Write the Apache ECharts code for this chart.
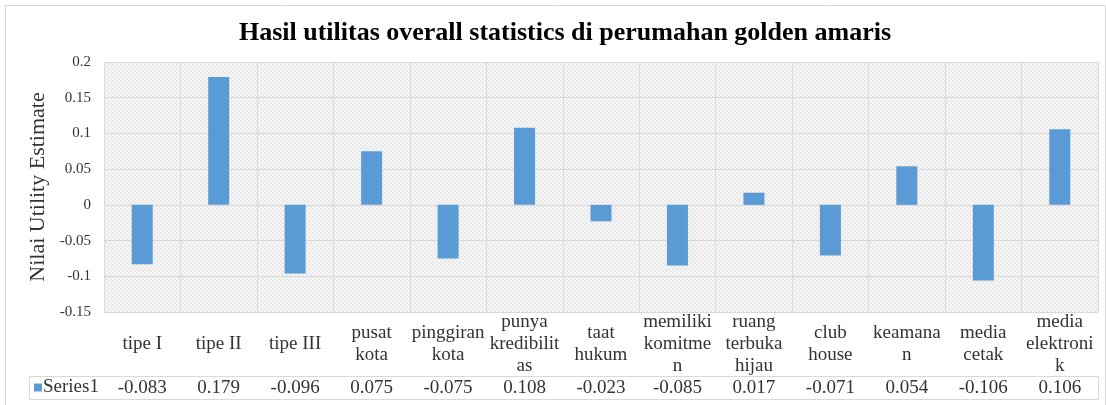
<!DOCTYPE html>
<html>
<head>
<meta charset="utf-8">
<title>Hasil utilitas overall statistics di perumahan golden amaris</title>
<script src="https://cdn.jsdelivr.net/npm/echarts@6/dist/echarts.min.js"></script>
<style>
  html, body { margin: 0; padding: 0; background: #ffffff; }
  #chart { width: 1106px; height: 405px; }
</style>
</head>
<body>
<div id="chart"></div>
<script>
// Attribute levels (category labels, wrapped the way the data table shows them)
const categories = [
  'tipe I', 'tipe II', 'tipe III', 'pusat\nkota', 'pinggiran\nkota',
  'punya\nkredibilit\nas', 'taat\nhukum', 'memiliki\nkomitme\nn',
  'ruang\nterbuka\nhijau', 'club\nhouse', 'keamana\nn', 'media\ncetak',
  'media\nelektroni\nk'
];
// Utility estimates per level
const utilityValues = [
  -0.083, 0.179, -0.096, 0.075, -0.075, 0.108, -0.023,
  -0.085, 0.017, -0.071, 0.054, -0.106, 0.106
];
// Value axis ticks
const yMin = -0.15;
const yMax = 0.2;
const yStep = 0.05;

const seriesName = 'Series1';

// Layout of the plot and the data table underneath it
const W = 1106, H = 405;
const GRID_LEFT = 104, GRID_RIGHT = 8, GRID_TOP = 62, GRID_BOTTOM = 93;
const CAT_ROW_H = 64, VAL_ROW_H = 23, LEGEND_CELL_LEFT = 29;
const plotBottom = H - GRID_BOTTOM;
const plotRight = W - GRID_RIGHT;
const lineColor = '#d9d9d9';
const textColor = '#333333';
const serif = '"Liberation Serif", "Times New Roman", serif';

// Fine diagonal hatch used as the plot background
function makeHatch() {
  const c = document.createElement('canvas');
  c.width = 4; c.height = 4;
  const g = c.getContext('2d');
  g.fillStyle = '#f5f5f5';
  g.fillRect(0, 0, 4, 4);
  g.fillStyle = '#dedede';
  for (let i = 0; i < 4; i++) g.fillRect(i, i, 1, 1);
  return c;
}

const chart = echarts.init(document.getElementById('chart'), null, { renderer: 'canvas' });

chart.setOption({
  animation: false,
  backgroundColor: '#ffffff',
  title: {
    text: 'Hasil utilitas overall statistics di perumahan golden amaris',
    left: 560,
    textAlign: 'center',
    top: 15,
    textStyle: { fontFamily: serif, fontWeight: 'bold', fontSize: 26, color: '#000000' }
  },
  legend: {
    data: [seriesName],
    left: LEGEND_CELL_LEFT + 5,
    top: plotBottom + CAT_ROW_H + 2,
    icon: 'rect',
    itemWidth: 8,
    itemHeight: 8,
    itemGap: 0,
    padding: 0,
    textStyle: { fontFamily: serif, fontSize: 19, lineHeight: 19, color: textColor, padding: [0, 0, 0, -4] }
  },
  grid: {
    left: GRID_LEFT, right: GRID_RIGHT, top: GRID_TOP, bottom: GRID_BOTTOM,
    show: true,
    borderWidth: 0,
    backgroundColor: { image: makeHatch(), repeat: 'repeat' }
  },
  xAxis: [
    {
      type: 'category',
      data: categories,
      position: 'bottom',
      axisLine: { show: false },
      axisTick: { show: true, length: CAT_ROW_H + VAL_ROW_H, lineStyle: { color: lineColor } },
      splitLine: { show: true, lineStyle: { color: lineColor, width: 1 } },
      axisLabel: {
        interval: 0,
        margin: CAT_ROW_H / 2,
        verticalAlign: 'middle',
        align: 'center',
        fontFamily: serif,
        fontSize: 19,
        lineHeight: 22,
        color: textColor
      }
    },
    {
      type: 'category',
      data: categories,
      position: 'bottom',
      offset: CAT_ROW_H,
      axisLine: { show: false },
      axisTick: { show: false },
      splitLine: { show: false },
      axisLabel: {
        interval: 0,
        margin: VAL_ROW_H / 2 + 1,
        verticalAlign: 'middle',
        fontFamily: serif,
        fontSize: 19,
        color: textColor,
        formatter: (v, i) => utilityValues[i].toFixed(3)
      }
    }
  ],
  yAxis: {
    type: 'value',
    min: yMin,
    max: yMax,
    interval: yStep,
    name: 'Nilai Utility Estimate',
    nameLocation: 'middle',
    nameGap: 52,
    nameTextStyle: { fontFamily: serif, fontSize: 22, color: textColor },
    axisLine: { show: false },
    axisTick: { show: false },
    splitLine: { show: true, lineStyle: { color: lineColor, width: 1 } },
    axisLabel: { fontFamily: serif, fontSize: 15, color: textColor, margin: 13 }
  },
  series: [
    {
      name: seriesName,
      type: 'bar',
      xAxisIndex: 0,
      data: utilityValues,
      barWidth: 21,
      itemStyle: { color: '#5b9bd5' }
    }
  ],
  graphic: [
    {
      // outer chart frame
      type: 'rect',
      silent: true,
      shape: { x: 5.5, y: 5.5, width: W - 6, height: H - 5 },
      style: { fill: null, stroke: lineColor, lineWidth: 1 }
    },
    {
      // value row of the data table, including the legend key cell
      type: 'rect',
      silent: true,
      shape: {
        x: LEGEND_CELL_LEFT + 0.5,
        y: plotBottom + CAT_ROW_H + 0.5,
        width: plotRight - LEGEND_CELL_LEFT,
        height: VAL_ROW_H
      },
      style: { fill: null, stroke: lineColor, lineWidth: 1 }
    }
  ]
});
</script>
</body>
</html>
